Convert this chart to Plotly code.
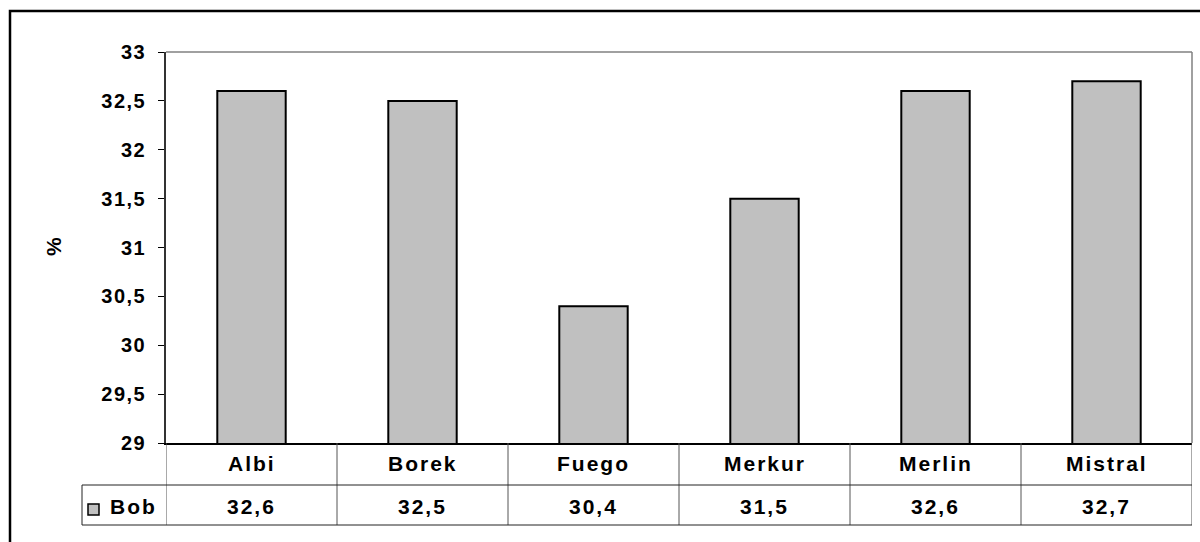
import plotly.graph_objects as go

# Data
varieties = ["Albi", "Borek", "Fuego", "Merkur", "Merlin", "Mistral"]
bob = [32.6, 32.5, 30.4, 31.5, 32.6, 32.7]
series_name = "Bob"
y_ticks = [29, 29.5, 30, 30.5, 31, 31.5, 32, 32.5, 33]
y_title = "%"

# Canvas and plot-area geometry (pixels)
W, H = 1200, 542
L, R, T, B = 166, 8, 52, 99
PW = W - L - R
PH = H - T - B

FONT = "Liberation Sans, Arial, sans-serif"
BAR_FILL = "#C0C0C0"


def px_x(p):
    """Horizontal pixel -> paper coordinate."""
    return (p - L) / PW


def px_y(p):
    """Vertical pixel -> paper coordinate."""
    return (H - B - p) / PH


def comma(v, fmt="g"):
    return format(v, fmt).replace(".", ",")


def spaced(s, ls):
    """Bold text with a little extra tracking between glyphs."""
    return f'<span style="letter-spacing:{ls}px"><b>{s}</b></span>'


xs = list(range(len(varieties)))

fig = go.Figure()
fig.add_trace(go.Bar(
    x=xs,
    y=bob,
    name=series_name,
    width=0.4,
    marker=dict(color=BAR_FILL, line=dict(color="black", width=2)),
    showlegend=False,
    hoverinfo="skip",
))

shapes = []
line_dark = dict(color="#222222", width=1)

# Plot-area frame: grey top and right edges
shapes.append(dict(type="line", xref="paper", yref="paper",
                   x0=0, x1=1, y0=1, y1=1, line=dict(color="#808080", width=1.5)))
shapes.append(dict(type="line", xref="paper", yref="paper",
                   x0=1, x1=1, y0=0, y1=1, line=dict(color="#808080", width=1.5)))

# Data table: column dividers at category boundaries
row_top, row_mid, row_bot = 443, 485, 525
for i in range(len(varieties) + 1):
    shapes.append(dict(type="line", xref="x", yref="paper",
                       x0=i - 0.5, x1=i - 0.5,
                       y0=px_y(row_top), y1=px_y(row_bot),
                       line=dict(color="#555555", width=1)))
# Horizontal rules of the table
for yy in (row_mid, row_bot):
    shapes.append(dict(type="line", xref="paper", yref="paper",
                       x0=px_x(82), x1=1, y0=px_y(yy), y1=px_y(yy),
                       line=line_dark))
# Left edge of the series-name cell
shapes.append(dict(type="line", xref="paper", yref="paper",
                   x0=px_x(82), x1=px_x(82),
                   y0=px_y(row_mid), y1=px_y(row_bot), line=line_dark))
# Legend key in the series-name cell
shapes.append(dict(type="rect", xref="paper", yref="paper",
                   x0=px_x(88), x1=px_x(99), y0=px_y(515), y1=px_y(504),
                   fillcolor=BAR_FILL, line=dict(color="black", width=1.5)))
# Chart-area outer border
shapes.append(dict(type="rect", xref="paper", yref="paper",
                   x0=px_x(10), x1=px_x(1215), y0=px_y(560), y1=px_y(11),
                   line=dict(color="black", width=2.5), fillcolor="rgba(0,0,0,0)"))

annotations = []
txt_font = dict(family=FONT, size=21, color="black")
tick_font = dict(family=FONT, size=20, color="black")
for i, (name, val) in enumerate(zip(varieties, bob)):
    annotations.append(dict(xref="x", yref="paper", x=i, y=px_y(464),
                            text=spaced(name, 2), showarrow=False,
                            xanchor="center", yanchor="middle", font=txt_font))
    annotations.append(dict(xref="x", yref="paper", x=i, y=px_y(506),
                            text=spaced(comma(val, ".1f"), 2), showarrow=False,
                            xanchor="center", yanchor="middle", font=txt_font))
annotations.append(dict(xref="paper", yref="paper", x=px_x(108), y=px_y(506),
                        text=spaced(series_name, 2), showarrow=False,
                        xanchor="left", yanchor="middle", font=txt_font))
annotations.append(dict(xref="paper", yref="paper", x=px_x(53), y=px_y(247),
                        text=f"<b>{y_title}</b>", showarrow=False, textangle=-90,
                        xanchor="center", yanchor="middle", font=txt_font))

fig.update_layout(
    width=W, height=H,
    margin=dict(l=L, r=R, t=T, b=B, pad=0),
    paper_bgcolor="white",
    plot_bgcolor="white",
    bargap=0.6,
    shapes=shapes,
    annotations=annotations,
    xaxis=dict(
        range=[-0.5, len(varieties) - 0.5],
        showticklabels=False,
        ticks="",
        showgrid=False,
        zeroline=False,
        showline=True,
        linecolor="black",
        linewidth=1.5,
        fixedrange=True,
    ),
    yaxis=dict(
        range=[y_ticks[0], y_ticks[-1]],
        tickvals=y_ticks,
        ticktext=[spaced(comma(t), 1.5) for t in y_ticks],
        ticks="outside",
        ticklen=6,
        tickwidth=1,
        tickcolor="black",
        ticklabelstandoff=8,
        tickfont=tick_font,
        showgrid=False,
        zeroline=False,
        showline=True,
        linecolor="#333333",
        linewidth=1.5,
        fixedrange=True,
    ),
)

fig.write_html("out.html", config={"displayModeBar": False})
